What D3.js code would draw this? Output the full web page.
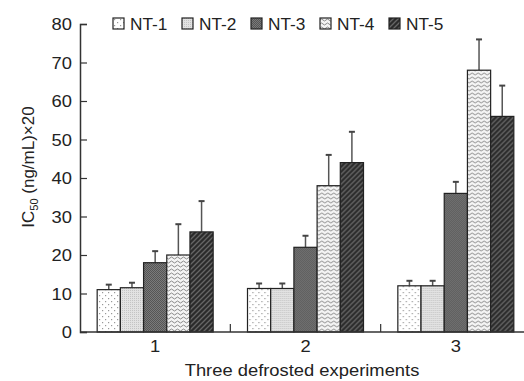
<!DOCTYPE html>
<html>
<head>
<meta charset="utf-8">
<script src="https://cdn.jsdelivr.net/npm/d3@7/dist/d3.min.js"></script>
<style>
  body { margin: 0; background: #fff; }
  svg { display: block; font-family: Arial, 'Liberation Sans', sans-serif; }
</style>
</head>
<body>
<div id="chart"></div>
<script>
// data
const groups = ['1', '2', '3'];
const series = ['NT-1', 'NT-2', 'NT-3', 'NT-4', 'NT-5'];
const values = [
  [11, 11.5, 18, 20, 26],
  [11.3, 11.3, 22, 38, 44],
  [12, 12, 36, 68, 56]
];
const errors = [
  [1.3, 1.3, 3, 8, 8],
  [1.3, 1.3, 3, 8, 8],
  [1.3, 1.3, 3, 8, 8]
];
const yTicks = [0, 10, 20, 30, 40, 50, 60, 70, 80];

const width = 524, height = 381;
const margin = { top: 24, right: -7, bottom: 49, left: 80 };
const stretch = 1.08; // text in the figure is a bit wide

const svg = d3.select('#chart').append('svg')
  .attr('width', width)
  .attr('height', height);

// bar fill patterns
const defs = svg.append('defs');

const p1 = defs.append('pattern').attr('id', 'pat0').attr('patternUnits', 'userSpaceOnUse')
  .attr('width', 6).attr('height', 6);
p1.append('rect').attr('width', 6).attr('height', 6).attr('fill', '#fff');
p1.append('rect').attr('x', 1).attr('y', 1).attr('width', 1.2).attr('height', 1.2).attr('fill', '#999');
p1.append('rect').attr('x', 4).attr('y', 4).attr('width', 1.2).attr('height', 1.2).attr('fill', '#999');

const p2 = defs.append('pattern').attr('id', 'pat1').attr('patternUnits', 'userSpaceOnUse')
  .attr('width', 2).attr('height', 2);
p2.append('rect').attr('width', 2).attr('height', 2).attr('fill', '#e2e2e2');
p2.append('rect').attr('width', 1).attr('height', 1).attr('fill', '#c4c4c4');

const p3 = defs.append('pattern').attr('id', 'pat2').attr('patternUnits', 'userSpaceOnUse')
  .attr('width', 2).attr('height', 2);
p3.append('rect').attr('width', 2).attr('height', 2).attr('fill', '#7a7a7a');
p3.append('rect').attr('width', 1).attr('height', 1).attr('fill', '#555');
p3.append('rect').attr('x', 1).attr('y', 1).attr('width', 1).attr('height', 1).attr('fill', '#555');

const p4 = defs.append('pattern').attr('id', 'pat3').attr('patternUnits', 'userSpaceOnUse')
  .attr('width', 6).attr('height', 4);
p4.append('rect').attr('width', 6).attr('height', 4).attr('fill', '#f4f4f4');
p4.append('path').attr('d', 'M0,2 Q1.5,0 3,2 T6,2')
  .attr('fill', 'none').attr('stroke', '#8a8a8a').attr('stroke-width', 1);

const p5 = defs.append('pattern').attr('id', 'pat4').attr('patternUnits', 'userSpaceOnUse')
  .attr('width', 5).attr('height', 5);
p5.append('rect').attr('width', 5).attr('height', 5).attr('fill', '#2b2b2b');
p5.append('path').attr('d', 'M0,5 L5,0 M-1,1 L1,-1 M4,6 L6,4')
  .attr('stroke', '#666').attr('stroke-width', 1.3);

// scales
const x0 = d3.scaleBand()
  .domain(groups)
  .range([margin.left, width - margin.right])
  .paddingInner(0)
  .paddingOuter(0);

const x1 = d3.scaleBand()
  .domain(series)
  .range([0, x0.bandwidth()])
  .paddingOuter(0.74)
  .paddingInner(0);

const y = d3.scaleLinear()
  .domain([0, 80])
  .range([height - margin.bottom, margin.top]);

function label(sel, x, yy) {
  return sel.attr('transform', `translate(${x},${yy}) scale(${stretch},1)`);
}

// y axis
const yAxis = svg.append('g')
  .attr('transform', `translate(${margin.left},0)`)
  .call(d3.axisRight(y).tickValues(yTicks).tickSize(7).tickFormat(''));
yAxis.select('.domain').attr('stroke', '#333').attr('stroke-width', 1.5);
yAxis.selectAll('.tick line').attr('stroke', '#333').attr('stroke-width', 1.2);

svg.append('g').selectAll('text')
  .data(yTicks)
  .enter()
  .append('text')
  .attr('transform', d => `translate(${margin.left - 8},${y(d)}) scale(${stretch},1)`)
  .attr('dy', '0.36em')
  .attr('text-anchor', 'end')
  .attr('font-size', 17)
  .attr('fill', '#222')
  .text(d => d);

// bars
const gGroups = svg.append('g').selectAll('g')
  .data(values)
  .enter()
  .append('g')
  .attr('transform', (d, i) => `translate(${x0(groups[i])},0)`);

// error bars first so bars cover the lower half
gGroups.each(function (row, gi) {
  const g = d3.select(this);
  row.forEach((v, si) => {
    const cx = x1(series[si]) + x1.bandwidth() / 2;
    const top = y(v + errors[gi][si]);
    g.append('line')
      .attr('x1', cx).attr('x2', cx)
      .attr('y1', y(v)).attr('y2', top)
      .attr('stroke', '#555').attr('stroke-width', 1.5);
    g.append('line')
      .attr('x1', cx - 3).attr('x2', cx + 3)
      .attr('y1', top).attr('y2', top)
      .attr('stroke', '#444').attr('stroke-width', 2);
  });
});

gGroups.selectAll('rect')
  .data(d => d)
  .enter()
  .append('rect')
  .attr('x', (d, i) => x1(series[i]))
  .attr('y', d => y(d))
  .attr('width', x1.bandwidth())
  .attr('height', d => y(0) - y(d))
  .attr('fill', (d, i) => `url(#pat${i})`)
  .attr('stroke', '#222')
  .attr('stroke-width', 1.2);

// x axis
svg.append('line')
  .attr('x1', margin.left).attr('x2', width)
  .attr('y1', y(0)).attr('y2', y(0))
  .attr('stroke', '#333').attr('stroke-width', 1.5);

svg.append('g').selectAll('line')
  .data(groups.slice(1))
  .enter()
  .append('line')
  .attr('x1', d => x0(d)).attr('x2', d => x0(d))
  .attr('y1', y(0)).attr('y2', y(0) - 8)
  .attr('stroke', '#333').attr('stroke-width', 1.2);

svg.append('g').selectAll('text')
  .data(groups)
  .enter()
  .append('text')
  .attr('transform', d => `translate(${x0(d) + x0.bandwidth() / 2},352) scale(${stretch},1)`)
  .attr('text-anchor', 'middle')
  .attr('font-size', 17)
  .attr('fill', '#222')
  .text(d => d);

label(svg.append('text'), 302, 376)
  .attr('text-anchor', 'middle')
  .attr('font-size', 17)
  .attr('fill', '#222')
  .text('Three defrosted experiments');

// y axis title
const yTitle = svg.append('text')
  .attr('transform', 'translate(34,167) rotate(-90)')
  .attr('text-anchor', 'middle')
  .attr('font-size', 17)
  .attr('fill', '#222');
yTitle.append('tspan').text('IC');
yTitle.append('tspan').attr('font-size', 11).attr('dy', 4).text('50');
yTitle.append('tspan').attr('dy', -4).text(' (ng/mL)×20');

// legend
const legend = svg.append('g').selectAll('g')
  .data(series)
  .enter()
  .append('g')
  .attr('transform', (d, i) => `translate(${113 + i * 69},18)`);

legend.append('rect')
  .attr('width', 11).attr('height', 11)
  .attr('fill', (d, i) => `url(#pat${i})`)
  .attr('stroke', '#222')
  .attr('stroke-width', 1.2);

legend.append('text')
  .attr('transform', `translate(17,6) scale(${stretch},1)`)
  .attr('dy', '0.36em')
  .attr('font-size', 16)
  .attr('fill', '#222')
  .text(d => d);
</script>
</body>
</html>
